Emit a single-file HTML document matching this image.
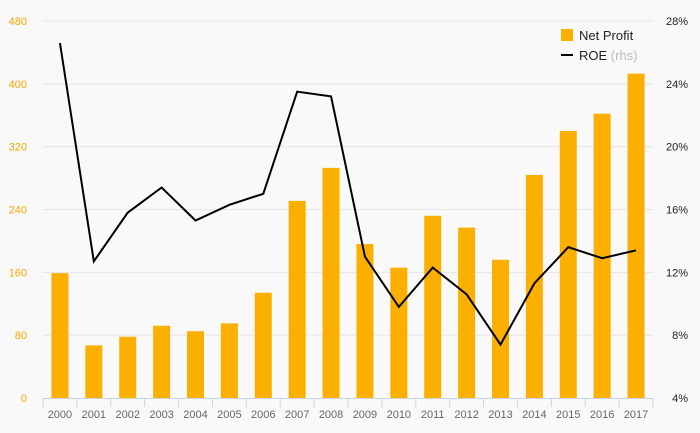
<!DOCTYPE html>
<html><head><meta charset="utf-8"><style>
body{margin:0;background:#f9f9f9;}
svg{display:block;font-family:"Liberation Sans","DejaVu Sans",sans-serif;}
</style></head><body>
<svg id="c" width="700" height="433">
<rect width="700" height="433" fill="#f9f9f9"/>
<g id="grid"></g>
<g id="bars"></g>
<g id="line"></g>
<g id="axes"></g>
<g>
<g>
<rect x="561" y="29" width="12" height="12" fill="#fbb000"/>
<text x="579" y="40" font-size="13" fill="#222">Net Profit</text></g>
<g>
<line x1="561" y1="55" x2="573" y2="55" stroke="#000" stroke-width="2"/>
<text x="579" y="60" font-size="13" fill="#222">ROE <tspan fill="#bbb">(rhs)</tspan></text></g>
</g>
</svg>
<script>
const categories=["2000","2001","2002","2003","2004","2005","2006","2007","2008","2009","2010","2011","2012","2013","2014","2015","2016","2017"];
const netProfit=[159,67,78,92,85,95,134,251,293,196,166,232,217,176,284,340,362,413];
const roe=[26.6,12.7,15.8,17.4,15.3,16.3,17.0,23.5,23.2,13.0,9.8,12.3,10.6,7.4,11.3,13.6,12.9,13.4];
const leftTicks=[0,80,160,240,320,400,480];
const rightTicks=[4,8,12,16,20,24,28];
const NS="http://www.w3.org/2000/svg";
const X0=43,X1=653,Y0=398,Y1=21;
const bw=(X1-X0)/categories.length;
const xc=i=>X0+bw*(i+0.5);
const yL=v=>Y0-(v-0)/(480-0)*(Y0-Y1);
const yR=v=>Y0-(v-4)/(28-4)*(Y0-Y1);
function mk(t,a,p){const e=document.createElementNS(NS,t);for(const k in a)e.setAttribute(k,a[k]);p.appendChild(e);return e;}
const grid=document.getElementById('grid'),bars=document.getElementById('bars'),line=document.getElementById('line'),axes=document.getElementById('axes');
leftTicks.forEach((v,i)=>{
 if(v>0){const g=mk('line',{x1:X0,x2:X1,y1:yL(v),y2:yL(v),stroke:'#e6e6e6','stroke-width':1},grid);
 
 }
 const t=mk('text',{x:27,y:yL(v)+4,'text-anchor':'end','font-size':11,fill:'#f5a800'},axes);t.textContent=v;
 
 
});
rightTicks.forEach(v=>{
 const t=mk('text',{x:688,y:yR(v)+4,'text-anchor':'end','font-size':11,fill:'#222'},axes);t.textContent=v+'%';
 
 
});
netProfit.forEach((v,i)=>{
 const r=mk('rect',{x:xc(i)-8.5,y:yL(v),width:17,height:Y0-yL(v),fill:'#fbb000'},bars);
 
 
});
const p=mk('polyline',{points:roe.map((v,i)=>xc(i)+','+yR(v)).join(' '),fill:'none',stroke:'#000','stroke-width':2,'stroke-linejoin':'miter'},line);


const ax=mk('line',{x1:X0,x2:X1,y1:Y0+0.5,y2:Y0+0.5,stroke:'#c8d4e8','stroke-width':1},axes);


for(let i=0;i<=categories.length;i++){
 const tk=mk('line',{x1:X0+bw*i,x2:X0+bw*i,y1:Y0,y2:Y0+9,stroke:'#c8d4e8','stroke-width':1},axes);
 
 
}
categories.forEach((c,i)=>{
 const t=mk('text',{x:xc(i),y:418,'text-anchor':'middle','font-size':11,fill:'#666'},axes);t.textContent=c;
 
 
});
</script>
</body></html>
